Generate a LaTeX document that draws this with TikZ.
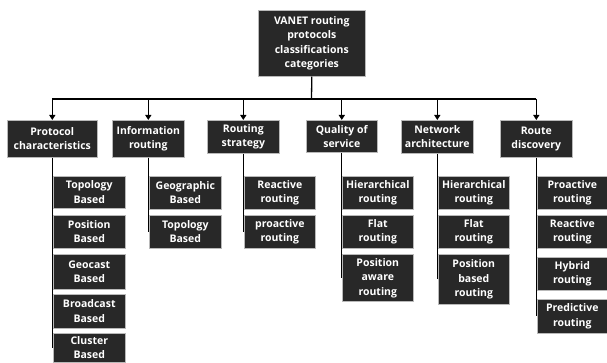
\documentclass[tikz,border=0pt]{standalone}
\usepackage{fontspec}
\setmainfont{Open Sans}
\usetikzlibrary{arrows.meta}
\definecolor{boxfill}{RGB}{40,40,40}
\tikzset{
  box/.style={draw=gray!55, line width=0.6pt, fill=boxfill, text=white, align=center,
    inner sep=0pt, anchor=north west, font=\fontsize{10.5}{14.5}\selectfont\bfseries},
  leaf/.style={box, minimum width=72pt, minimum height=33pt},
  link/.style={line width=1.3pt},
  arr/.style={line width=1.3pt, -{Triangle[length=5pt,width=6pt]}},
}

\begin{document}
\begin{tikzpicture}[x=1pt,y=1pt]
        \useasboundingbox (0,0) rectangle (607,362);

        \node[box, minimum width=107pt, minimum height=66pt] (root) at (258,352)
            {VANET routing\\protocols\\classifications\\categories};

        \node[box, minimum width=90pt, minimum height=37pt] (pc) at (7,242) {Protocol\\characteristics};
        \node[box, minimum width=72pt, minimum height=37pt] (ir) at (112,242) {Information\\routing};
        \node[box, minimum width=72pt, minimum height=33pt] (rs) at (207,242) {Routing\\strategy};
        \node[box, minimum width=71pt, minimum height=32pt] (qs) at (306,242) {Quality of\\service};
        \node[box, minimum width=72pt, minimum height=33pt] (na) at (401,242) {Network\\architecture};
        \node[box, minimum width=72pt, minimum height=37pt] (rd) at (500,242) {Route\\discovery};

        \node[leaf, minimum height=32pt] (pctopo) at (53,186) {Topology\\Based};
        \node[leaf] (pcpos) at (53,147) {Position\\Based};
        \node[leaf, minimum height=35pt] (pcgeo) at (53,108) {Geocast\\Based};
        \node[leaf, minimum height=34pt] (pcbroad) at (53,68) {Broadcast\\Based};
        \node[leaf, minimum height=29pt] (pcclust) at (53,29) {Cluster\\Based};

        \node[leaf] (irgeo) at (149,186) {Geographic\\Based};
        \node[leaf] (irtopo) at (149,147) {Topology\\Based};

        \node[leaf, minimum width=71pt] (rsreact) at (244,186) {Reactive\\routing};
        \node[leaf, minimum width=71pt] (rspro) at (244,147) {proactive\\routing};

        \node[leaf, minimum width=71pt] (qshier) at (342,186) {Hierarchical\\routing};
        \node[leaf, minimum width=71pt] (qsflat) at (342,147) {Flat\\routing};
        \node[leaf, minimum width=71pt, minimum height=47pt] (qspos) at (342,108) {Position\\aware\\routing};

        \node[leaf, minimum width=71pt] (nahier) at (438,186) {Hierarchical\\routing};
        \node[leaf, minimum width=71pt] (naflat) at (438,147) {Flat\\routing};
        \node[leaf, minimum width=71pt, minimum height=50pt] (napos) at (438,108) {Position\\based\\routing};

        \node[leaf, minimum width=70pt] (rdpro) at (537,186) {Proactive\\routing};
        \node[leaf, minimum width=70pt] (rdreact) at (537,147) {Reactive\\routing};
        \node[leaf, minimum width=70pt] (rdhyb) at (537,105) {Hybrid\\routing};
        \node[leaf, minimum width=70pt, minimum height=34pt] (rdpred) at (537,63) {Predictive\\routing};

        \coordinate (bus) at (311.5,263);

        \draw[link] (root.south) -- (bus);
        \draw[link] (pc.north |- bus) -- (rd.north |- bus);

        \draw[arr] (pc.north |- bus) -- (pc.north);
        \draw[arr] (ir.north |- bus) -- (ir.north);
        \draw[arr] (rs.north |- bus) -- (rs.north);
        \draw[arr] (qs.north |- bus) -- (qs.north);
        \draw[arr] (na.north |- bus) -- (na.north);
        \draw[arr] (rd.north |- bus) -- (rd.north);

        \draw[link] (pc.south) -- (pc.south |- pcclust.west);
        \draw[link] (ir.south) -- (ir.south |- irtopo.west);
        \draw[link] (rs.south) -- (rs.south |- rspro.west);
        \draw[link] (qs.south) -- (qs.south |- qspos.west);
        \draw[link] (na.south) -- (na.south |- napos.west);
        \draw[link] (rd.south) -- (rd.south |- rdpred.west);
    \end{tikzpicture}
\end{document}
